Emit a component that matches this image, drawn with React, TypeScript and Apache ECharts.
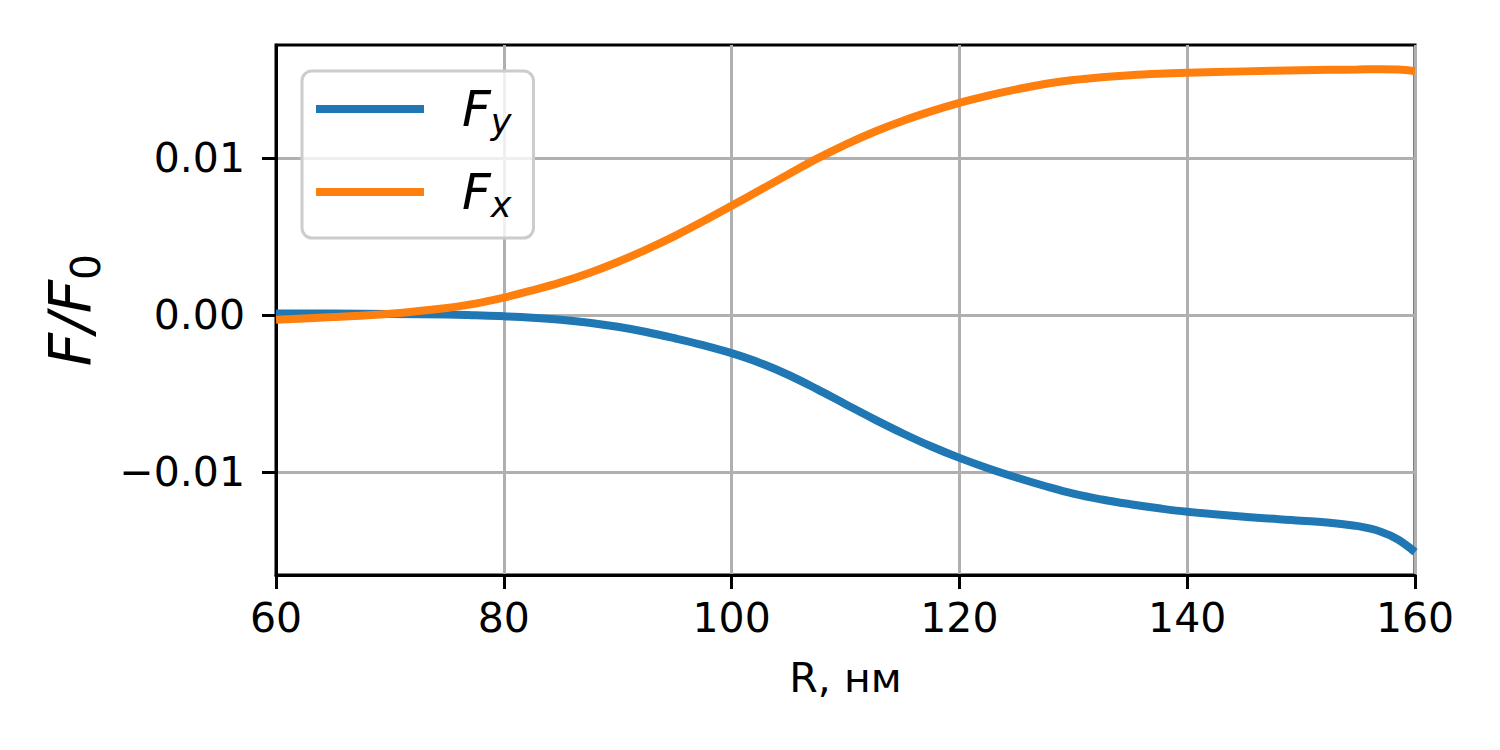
import React, { useEffect, useRef } from "react";
import * as echarts from "echarts";

const R_VALUES = [60, 65, 70, 75, 77.5, 80, 82.5, 85, 87.5, 90, 92.5, 95, 97.5, 100, 102.5, 105, 107.5, 110, 112.5, 115, 117.5, 120, 122.5, 125, 127.5, 130, 132.5, 135, 137.5, 140, 145, 150, 152.5, 155, 157, 158.5, 160];
const FY_VALUES = [0.0001, 0.00009, 0.00007, 0.00003, -0.00002, -0.00008, -0.00017, -0.0003, -0.00049, -0.00075, -0.00108, -0.00148, -0.00192, -0.00243, -0.00305, -0.00382, -0.00472, -0.00568, -0.00663, -0.00753, -0.00836, -0.0091, -0.00976, -0.01035, -0.01089, -0.01138, -0.01175, -0.01205, -0.01231, -0.01253, -0.01285, -0.0131, -0.01323, -0.01345, -0.0138, -0.0143, -0.0151];
const FX_VALUES = [-0.0003, -0.00013, 0.00008, 0.00045, 0.00073, 0.00111, 0.00157, 0.00208, 0.00268, 0.00338, 0.00417, 0.00503, 0.00597, 0.00696, 0.00796, 0.00897, 0.00996, 0.01086, 0.01166, 0.01236, 0.01297, 0.01351, 0.01397, 0.01437, 0.01472, 0.01497, 0.01515, 0.01528, 0.01537, 0.01543, 0.01552, 0.01559, 0.01562, 0.01564, 0.01566, 0.01564, 0.01553];
const Y_TICKS = [-0.01, 0, 0.01];
const X_TICKS = [60, 80, 100, 120, 140, 160];
const SERIES_NAMES = ["Fy", "Fx"];
const SERIES_SUBS = ["y", "x"];
const COLORS = ["#1f77b4", "#ff7f0e"];

const FONT = "DejaVu Sans";

export default function App() {
  const ref = useRef<HTMLDivElement>(null);
  useEffect(() => {
    if (!ref.current) return;
    const chart = echarts.init(ref.current, null, { renderer: "svg" });
    const fmtY = (v: number) => {
      if (Math.abs(v) < 1e-9) return "0.00";
      return (v < 0 ? "\u2212" : "") + Math.abs(v).toFixed(2);
    };
    const seriesData = [FY_VALUES, FX_VALUES].map((vals) => R_VALUES.map((r, i) => [r, vals[i]]));
    chart.setOption({
      animation: false,
      backgroundColor: "#ffffff",
      textStyle: { fontFamily: FONT },
      grid: {
        left: 276,
        right: 85,
        top: 45,
        bottom: 175,
        show: true,
        borderColor: "#000",
        borderWidth: 3,
        backgroundColor: "transparent",
      },
      legend: {
        orient: "vertical",
        left: 302,
        top: 71,
        padding: [13, 22, 16, 14],
        itemGap: 28,
        itemWidth: 108,
        itemHeight: 8,
        icon: "rect",
        backgroundColor: "rgba(255,255,255,0.8)",
        borderColor: "#cccccc",
        borderWidth: 3,
        borderRadius: 10,
        data: SERIES_NAMES,
        formatter: (name: string) => {
          const i = SERIES_NAMES.indexOf(name);
          return "{f|F}{s|" + SERIES_SUBS[i] + "}";
        },
        textStyle: {
          rich: {
            f: {
              fontFamily: FONT,
              fontStyle: "italic",
              fontSize: 50,
              lineHeight: 60,
              color: "#000",
              padding: [0, 0, 0, 33],
            },
            s: {
              fontFamily: FONT,
              fontStyle: "italic",
              fontSize: 35,
              lineHeight: 32,
              verticalAlign: "bottom",
              color: "#000",
            },
          },
        },
      },
      xAxis: {
        type: "value",
        min: 60,
        max: 160,
        interval: 20,
        name: "R, нм",
        nameLocation: "middle",
        nameGap: 82,
        nameTextStyle: { fontFamily: FONT, fontSize: 41, color: "#000" },
        axisLine: { show: true, onZero: false, lineStyle: { color: "#000", width: 3 } },
        axisTick: { show: true, length: 14, lineStyle: { color: "#000", width: 3 }, customValues: X_TICKS },
        axisLabel: {
          margin: 22,
          fontFamily: FONT,
          fontSize: 41,
          color: "#000",
          customValues: X_TICKS,
          formatter: (v: number) => String(v),
        },
        splitLine: { show: true, lineStyle: { color: "#b0b0b0", width: 3 } },
      },
      yAxis: {
        type: "value",
        min: -0.01656,
        max: 0.0172,
        splitNumber: 3,
        minInterval: 0.01,
        maxInterval: 0.01,
        name: "{a|F/F}{b|0}",
        nameLocation: "middle",
        nameRotate: 90,
        nameGap: 170,
        nameTextStyle: {
          rich: {
            a: { fontFamily: FONT, fontStyle: "italic", fontSize: 58, lineHeight: 70, color: "#000" },
            b: { fontFamily: FONT, fontSize: 41, lineHeight: 40, verticalAlign: "bottom", color: "#000" },
          },
        },
        axisLine: { show: true, onZero: false, lineStyle: { color: "#000", width: 3 } },
        axisTick: { show: true, length: 14, lineStyle: { color: "#000", width: 3 }, customValues: Y_TICKS },
        axisLabel: {
          margin: 31,
          fontFamily: FONT,
          fontSize: 41,
          color: "#000",
          customValues: Y_TICKS,
          formatter: fmtY,
        },
        splitLine: { show: true, lineStyle: { color: "#b0b0b0", width: 3 } },
      },
      series: SERIES_NAMES.map((name, i) => ({
        name,
        type: "line",
        data: seriesData[i],
        showSymbol: false,
        symbol: "none",
        smooth: 0.4,
        color: COLORS[i],
        lineStyle: { color: COLORS[i], width: 8 },
        clip: true,
      })),
    });
    return () => chart.dispose();
  }, []);
  return <div ref={ref} style={{ position: "fixed", left: 0, top: 0, width: 1500, height: 750 }} />;
}
